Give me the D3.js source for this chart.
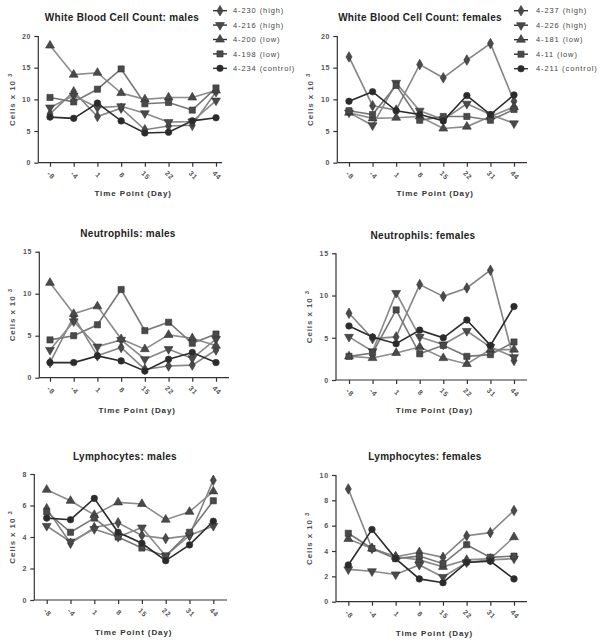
<!DOCTYPE html>
<html><head><meta charset="utf-8">
<script src="https://cdn.jsdelivr.net/npm/d3@7"></script>
<style>
html,body{margin:0;padding:0;background:#fff;}
text{font-family:"Liberation Sans",Arial,sans-serif;}
</style></head>
<body><svg id="c" width="604" height="643"></svg>
<script>
// ---------- data ----------
const days = ["-8","-4","1","8","15","22","31","44"];
const maleIds = ["4-230 (high)","4-216 (high)","4-200 (low)","4-198 (low)","4-234 (control)"];
const femaleIds = ["4-237 (high)","4-226 (high)","4-181 (low)","4-11 (low)","4-211 (control)"];
const titles = ["White Blood Cell Count: males","White Blood Cell Count: females","Neutrophils: males","Neutrophils: females","Lymphocytes: males","Lymphocytes: females"];
const wbcTicks = [0,5,10,15,20];
const neuTicks = [0,5,10,15];
const lymMaleTicks = [0,2,4,6,8];
const lymFemaleTicks = [0,2,4,6,8,10];

// series order: diamond, down-triangle, up-triangle, square, circle
const wbcMales = [
  [7.7,11.2,7.3,8.6,5.2,5.8,5.9,11.2],
  [8.7,10.6,8.7,8.9,7.8,6.4,6.5,9.8],
  [18.5,13.9,14.2,11.0,10.0,10.3,10.3,11.4],
  [10.3,9.6,11.6,14.8,9.3,9.5,8.3,11.8],
  [7.2,7.0,9.4,6.6,4.7,4.8,6.6,7.1]
];
const wbcFemales = [
  [16.7,9.0,8.3,15.5,13.4,16.2,18.8,9.7],
  [7.9,5.9,12.6,8.2,6.8,9.3,7.6,6.2],
  [7.9,7.0,7.1,7.3,5.4,5.7,7.3,8.8],
  [8.2,7.6,12.2,6.7,7.3,7.3,6.7,8.4],
  [9.7,11.2,8.2,7.6,6.6,10.6,7.6,10.7]
];
const neuMales = [
  [1.8,7.3,2.6,3.6,1.0,1.4,1.5,3.3],
  [3.3,6.7,3.7,4.5,2.2,3.4,2.3,4.6],
  [11.3,7.6,8.5,4.6,3.4,5.1,4.7,3.8],
  [4.5,5.0,6.3,10.5,5.6,6.6,4.1,5.2],
  [1.8,1.8,2.6,2.0,0.8,2.2,3.0,1.8]
];
const neuFemales = [
  [7.9,4.9,5.1,11.3,9.9,10.9,13.0,2.3],
  [5.1,3.4,10.3,5.1,4.2,5.8,3.9,2.7],
  [2.8,2.6,3.2,3.9,2.6,1.9,3.6,3.6],
  [2.8,3.2,8.3,3.1,4.1,2.8,3.0,4.5],
  [6.4,5.1,4.3,5.9,5.0,7.1,4.1,8.7]
];
const lymMales = [
  [5.8,3.6,4.6,4.9,4.1,3.9,4.1,7.6],
  [4.7,3.7,4.5,4.0,4.6,2.8,4.1,4.7],
  [7.0,6.3,5.4,6.2,6.1,5.1,5.6,6.9],
  [5.6,4.3,5.2,4.0,3.3,2.8,4.3,6.3],
  [5.2,5.1,6.45,4.3,3.6,2.5,3.5,5.0]
];
const lymFemales = [
  [8.9,4.2,3.55,3.9,3.5,5.2,5.45,7.2],
  [2.55,2.4,2.15,2.9,1.95,3.1,3.3,3.4],
  [4.95,4.2,3.55,3.3,2.75,3.3,3.4,5.1],
  [5.4,4.2,3.4,3.6,3.0,4.5,3.5,3.6],
  [2.9,5.7,3.4,1.8,1.5,3.1,3.2,1.8]
];

// ---------- layout / style ----------
const panels = [
  {data:wbcMales, ticks:wbcTicks, max:20, ax:38.3, x0:50, x1:216, xe:222, yt:36, yb:162.7, tx:122, ty:20.5, ly:196, ylx:15, legend:{ids:maleIds, mx:220, tx:233, y0:10.7, dy:14.4}},
  {data:wbcFemales, ticks:wbcTicks, max:20, ax:337.3, x0:349, x1:514, xe:527, yt:36, yb:162.7, tx:420, ty:20.5, ly:196, ylx:313, legend:{ids:femaleIds, mx:521, tx:536, y0:10.7, dy:14.5}},
  {data:neuMales, ticks:neuTicks, max:15, ax:39.3, x0:50, x1:216, xe:229, yt:251.7, yb:377.7, tx:128, ty:237, ly:413, ylx:15},
  {data:neuFemales, ticks:neuTicks, max:15, ax:336, x0:349, x1:514, xe:527, yt:253.3, yb:380, tx:423, ty:238.5, ly:413, ylx:312},
  {data:lymMales, ticks:lymMaleTicks, max:8, ax:34.3, x0:46.7, x1:213.3, xe:227, yt:474, yb:600, tx:125, ty:459.5, ly:635, ylx:15},
  {data:lymFemales, ticks:lymFemaleTicks, max:10, ax:336, x0:348.3, x1:514, xe:527, yt:475, yb:601.7, tx:425, ty:460, ly:636, ylx:312}
];
const lineColors = ["#858585","#8a8a8a","#8c8c8c","#777777","#2b2b2b"];
const markFill = ["#4a4a4a","#4a4a4a","#4a4a4a","#4a4a4a","#2b2b2b"];
const symbols = [d3.symbolDiamond, d3.symbolTriangle, d3.symbolTriangle, d3.symbolSquare, d3.symbolCircle];
const symRot = [0,180,0,0,0];
const symSize = [32,34,34,38,34];

const svg = d3.select("#c");

function drawMarker(g, i, x, y){
  g.append("path")
   .attr("d", d3.symbol().type(symbols[i]).size(symSize[i])())
   .attr("transform", `translate(${x},${y}) rotate(${symRot[i]})`)
   .attr("fill", markFill[i]).attr("stroke","#333").attr("stroke-width",0.6);
}

panels.forEach((p, pi) => {
  const g = svg.append("g");
  const x = d3.scalePoint().domain(days).range([p.x0, p.x1]);
  const y = d3.scaleLinear().domain([0, p.max]).range([p.yb, p.yt]);

  // y axis
  const ya = g.append("g").attr("transform", `translate(${p.ax},0)`)
    .call(d3.axisLeft(y).tickValues(p.ticks).tickSize(4).tickPadding(3));
  ya.select(".domain").attr("stroke","#333").attr("stroke-width",1.2).attr("d", `M0,${p.yt}V${p.yb}`);
  ya.selectAll(".tick line").attr("stroke","#333").attr("stroke-width",1.2);
  ya.selectAll(".tick text").attr("fill","#555").attr("font-size","7px").attr("font-weight","bold")
    .attr("font-family","Liberation Sans, Arial, sans-serif").attr("letter-spacing","0.8px");

  // x axis
  const xa = g.append("g").attr("transform", `translate(0,${p.yb})`)
    .call(d3.axisBottom(x).tickSize(4).tickPadding(3));
  xa.select(".domain").attr("stroke","#333").attr("stroke-width",1.2).attr("d", `M${p.ax},0H${p.xe}`);
  xa.selectAll(".tick line").attr("stroke","#333").attr("stroke-width",1.2);
  xa.selectAll(".tick text").attr("fill","#555").attr("font-size","7px").attr("font-weight","bold")
    .attr("font-family","Liberation Sans, Arial, sans-serif").attr("letter-spacing","0.8px")
    .attr("text-anchor","middle").attr("dy",null).attr("y",null)
    .attr("transform","translate(0,13) rotate(45)").attr("dominant-baseline","middle");

  // series
  p.data.forEach((vals, si) => {
    const line = d3.line().x((d,i)=>x(days[i])).y(d=>y(d));
    g.append("path").attr("d", line(vals)).attr("fill","none")
      .attr("stroke", lineColors[si]).attr("stroke-width", 1.6);
  });
  p.data.forEach((vals, si) => {
    vals.forEach((v,i) => drawMarker(g, si, x(days[i]), y(v)));
  });

  // title
  g.append("text").attr("x", p.tx).attr("y", p.ty).attr("text-anchor","middle")
    .attr("font-size","10px").attr("font-weight","bold").attr("fill","#222")
    .attr("letter-spacing","0.3px").text(titles[pi]);
  // x label
  g.append("text").attr("x", (p.ax + p.xe)/2 + 3).attr("y", p.ly).attr("text-anchor","middle")
    .attr("font-size","8px").attr("font-weight","bold").attr("fill","#333")
    .attr("letter-spacing","0.9px").text("Time Point (Day)");
  // y label
  const yl = g.append("text").attr("transform", `translate(${p.ylx},${(p.yt+p.yb)/2}) rotate(-90)`)
    .attr("text-anchor","middle").attr("font-size","8px").attr("font-weight","bold").attr("fill","#555")
    .attr("letter-spacing","0.9px");
  yl.append("tspan").text("Cells x 10 ");
  yl.append("tspan").attr("dy","-3").attr("font-size","6px").text("3");

  // legend
  if (p.legend) {
    const L = p.legend;
    L.ids.forEach((id, si) => {
      const yy = L.y0 + si*L.dy;
      g.append("line").attr("x1", L.mx-7).attr("x2", L.mx+7).attr("y1", yy).attr("y2", yy)
        .attr("stroke", "#333").attr("stroke-width",1.4);
      drawMarker(g, si, L.mx, yy);
      g.append("text").attr("x", L.tx).attr("y", yy).attr("dy","0.35em")
        .attr("font-size","7.5px").attr("fill","#444").attr("letter-spacing","0.9px").text(id);
    });
  }
});
</script></body></html>
